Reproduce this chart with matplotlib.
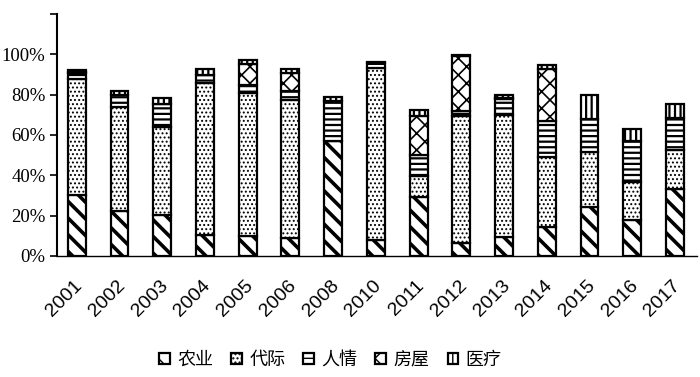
import matplotlib
matplotlib.use("Agg")
import matplotlib.pyplot as plt
import matplotlib.transforms as mtransforms
import numpy as np

years = ['2001', '2002', '2003', '2004', '2005', '2006', '2008', '2010',
         '2011', '2012', '2013', '2014', '2015', '2016', '2017']
nongye = [30.3, 22.4, 20.4, 10.4, 10.0, 9.1, 56.9, 8.0, 29.0, 6.6, 9.6, 14.6, 24.2, 17.9, 33.2]
daiji = [57.3, 51.6, 43.6, 75.6, 71.0, 68.2, 0.0, 85.0, 10.5, 62.7, 60.5, 34.5, 27.2, 18.6, 19.2]
renqing = [3.0, 5.6, 11.6, 3.5, 3.6, 4.4, 20.1, 2.5, 10.7, 2.5, 7.5, 17.7, 16.3, 20.4, 16.1]
fangwu = [0.5, 0.0, 0.0, 0.0, 10.4, 9.2, 0.0, 0.0, 19.1, 27.4, 0.5, 25.7, 0.0, 0.0, 0.0]
yiliao = [1.3, 2.1, 2.9, 3.0, 2.0, 2.0, 1.8, 0.5, 3.3, 0.5, 1.5, 2.2, 11.9, 6.1, 7.1]

series_names = ['农业', '代际', '人情', '房屋', '医疗']
series_vals = [nongye, daiji, renqing, fangwu, yiliao]
hatches = ['\\\\', '....', '---', 'xx', '|||']
hatch_lws = [2.6, 0.9, 1.6, 1.2, 1.6]

fig = plt.figure(figsize=(7.0, 3.77), dpi=100)
ax = fig.add_axes([0.081, 0.321, 0.915, 0.642])

x = np.arange(len(years))
bottom = np.zeros(len(years))
handles = []
for name, vals, h, hlw in zip(series_names, series_vals, hatches, hatch_lws):
    with plt.rc_context({'hatch.linewidth': hlw, 'hatch.color': 'black'}):
        bars = ax.bar(x, vals, width=0.42, bottom=bottom, color='white',
                      edgecolor='black', linewidth=1.6, hatch=h, label=name)
    handles.append(bars)
    bottom = bottom + np.array(vals)

ax.set_xlim(-0.47, 14.52)
ax.set_ylim(0, 120)
ax.set_yticks([0, 20, 40, 60, 80, 100, 120])
ax.set_yticklabels(['0%', '20%', '40%', '60%', '80%', '100%', ''],
                   family='Liberation Serif', fontsize=13.5)
ax.tick_params(axis='y', length=5, width=1.2, pad=3)
ax.set_xticks(x)
ax.set_xticklabels(years, rotation=45, ha='right', va='top',
                   rotation_mode='anchor', family='Liberation Sans', fontsize=14)
ax.tick_params(axis='x', length=0, pad=15)
shift = mtransforms.ScaledTranslation(-3 / 100, 0, fig.dpi_scale_trans)
for lbl in ax.get_xticklabels():
    lbl.set_transform(lbl.get_transform() + shift)
ax.spines['top'].set_visible(False)
ax.spines['right'].set_visible(False)
ax.spines['left'].set_linewidth(1.5)
ax.spines['bottom'].set_linewidth(1.0)

leg = fig.legend(handles=handles, labels=series_names, loc='center',
                 bbox_to_anchor=(0.472, 0.045), ncol=5, frameon=False,
                 prop={'family': ['Noto Sans CJK SC', 'DejaVu Sans'], 'size': 13},
                 handlelength=0.6, handleheight=0.6, handletextpad=0.4,
                 columnspacing=1.0)

fig.savefig('out.png', dpi=100)
